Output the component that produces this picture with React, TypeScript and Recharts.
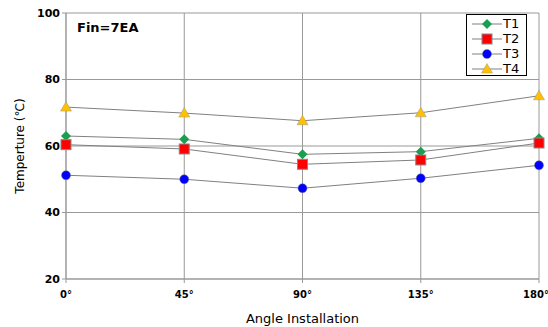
import React from 'react';
import { LineChart, Line, XAxis, YAxis, CartesianGrid } from 'recharts';

const angles = ['0°', '45°', '90°', '135°', '180°'];
const t1 = [63.0, 62.0, 57.5, 58.3, 62.3];
const t2 = [60.4, 59.1, 54.5, 55.8, 60.9];
const t3 = [51.2, 50.0, 47.3, 50.3, 54.2];
const t4 = [71.7, 69.9, 67.6, 70.0, 75.1];
const yTicks = [20, 40, 60, 80, 100];

const chartData = angles.map((angle, i) => ({ angle, T1: t1[i], T2: t2[i], T3: t3[i], T4: t4[i] }));

const SERIES = [
  { key: 'T1', color: '#1a9e50', shape: 'diamond' },
  { key: 'T2', color: '#ff0000', shape: 'square' },
  { key: 'T3', color: '#0000ff', shape: 'circle' },
  { key: 'T4', color: '#ffc000', shape: 'triangle' },
];

const FONT = '"DejaVu Sans", Verdana, sans-serif';

function Marker({ cx, cy, shape, color }: { cx: number; cy: number; shape: string; color: string }) {
  if (cx == null || cy == null) return null;
  if (shape === 'diamond') {
    return <path d={`M${cx},${cy - 5}L${cx + 5},${cy}L${cx},${cy + 5}L${cx - 5},${cy}Z`} fill={color} stroke="none" />;
  }
  if (shape === 'square') {
    return <rect x={cx - 5} y={cy - 5} width={10} height={10} fill={color} stroke="#888" strokeWidth={1} />;
  }
  if (shape === 'circle') {
    return <circle cx={cx} cy={cy} r={4.5} fill={color} stroke="#777" strokeWidth={0.5} />;
  }
  return <path d={`M${cx},${cy - 5.5}L${cx + 5.5},${cy + 4}L${cx - 5.5},${cy + 4}Z`} fill={color} stroke="#999" strokeWidth={0.5} />;
}

// last label sits against the right edge, like the original
function AngleTick({ x, y, payload, index }: any) {
  const last = index === angles.length - 1;
  return (
    <text x={last ? x - 3 : x} y={y + 13} textAnchor="middle" fill="#000" fontSize={10} fontWeight="bold" fontFamily={FONT}>
      {payload.value}
    </text>
  );
}

function LegendBox() {
  return (
    <div style={{ position: 'absolute', left: 466, top: 14, width: 61, height: 62, border: '1px solid #000', background: '#fff', fontFamily: FONT, fontSize: 13, boxSizing: 'border-box', paddingTop: 1 }}>
      {SERIES.map((s) => (
        <div key={s.key} style={{ display: 'flex', alignItems: 'center', height: 15 }}>
          <svg width={35} height={14}>
            <line x1={5} y1={7} x2={35} y2={7} stroke="#808080" strokeWidth={1} />
            <Marker cx={20} cy={7} shape={s.shape} color={s.color} />
          </svg>
          <span style={{ color: '#000', marginLeft: 1 }}>{s.key}</span>
        </div>
      ))}
    </div>
  );
}

export default function App() {
  return (
    <div style={{ position: 'absolute', left: 0, top: 0, width: 548, height: 327, background: '#fff' }}>
      <LineChart width={548} height={327} data={chartData} margin={{ top: 13, right: 9, bottom: 0, left: 0 }}>
        <CartesianGrid stroke="#999" strokeWidth={1} />
        <XAxis
          dataKey="angle"
          height={48}
          stroke="#999"
          tickLine={{ stroke: '#999' }}
          tickSize={4}
          tick={<AngleTick />}
          interval={0}
          label={{ value: 'Angle Installation', position: 'insideBottom', offset: 4, style: { fill: '#000', fontSize: 13, fontFamily: FONT } }}
        />
        <YAxis
          domain={[20, 100]}
          ticks={yTicks}
          width={66}
          stroke="#999"
          tickLine={{ stroke: '#999' }}
          tickSize={4}
          tick={{ fill: '#000', fontSize: 11, fontWeight: 'bold', fontFamily: FONT }}
        />
        {SERIES.map((s) => (
          <Line
            key={s.key}
            dataKey={s.key}
            stroke="#808080"
            strokeWidth={1}
            isAnimationActive={false}
            dot={(p: any) => <Marker key={`${s.key}-${p.index}`} cx={p.cx} cy={p.cy} shape={s.shape} color={s.color} />}
            activeDot={false}
          />
        ))}
        <text x={20} y={146} transform="rotate(-90 20 146)" textAnchor="middle" dominantBaseline="central" fontFamily={FONT} fontSize={12} fill="#000">
          Temperture (℃)
        </text>
        <text x={77} y={32} fontFamily={FONT} fontSize={13} fontWeight="bold" fill="#000">Fin=7EA</text>
      </LineChart>
      <LegendBox />
    </div>
  );
}
